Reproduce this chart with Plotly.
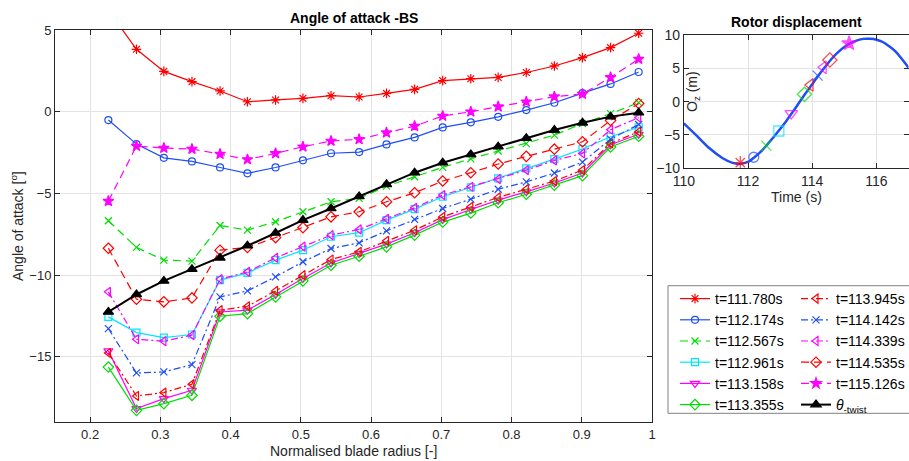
import plotly.graph_objects as go

W, H = 909, 461

# ---------------- data ----------------
radius = [0.226, 0.266, 0.305, 0.345, 0.385, 0.424, 0.464, 0.503, 0.543, 0.583,
          0.622, 0.662, 0.702, 0.742, 0.781, 0.821, 0.861, 0.901, 0.941, 0.981]

aoa_111780 = [6.2, 3.82, 2.47, 1.84, 1.27, 0.61, 0.72, 0.82, 0.98, 0.90,
              1.12, 1.37, 1.90, 2.02, 2.10, 2.40, 2.80, 3.31, 3.92, 4.80]
aoa_112174 = [-0.51, -1.98, -2.82, -3.04, -3.41, -3.77, -3.41, -2.97, -2.54, -2.47,
              -2.00, -1.57, -0.96, -0.65, -0.31, 0.10, 0.55, 1.14, 1.70, 2.43]
aoa_112567 = [-6.67, -8.30, -9.08, -9.14, -6.96, -7.24, -6.73, -6.12, -5.51, -5.30,
              -4.55, -3.98, -3.40, -2.88, -2.40, -1.95, -1.43, -0.72, -0.12, 0.56]
aoa_112961 = [-12.55, -13.51, -13.82, -13.63, -10.30, -9.86, -9.08, -8.47, -7.65, -7.40,
              -6.63, -5.96, -5.20, -4.63, -4.08, -3.47, -2.90, -2.28, -1.53, -0.95]
aoa_113158 = [-14.63, -18.16, -17.55, -17.04, -12.25, -12.14, -11.18, -10.20, -9.25, -8.67,
              -8.10, -7.40, -6.60, -5.98, -5.41, -4.90, -4.36, -3.75, -2.02, -1.38]
aoa_113355 = [-15.62, -18.27, -17.86, -17.35, -12.51, -12.35, -11.33, -10.35, -9.39, -8.84,
              -8.27, -7.55, -6.75, -6.20, -5.57, -5.05, -4.49, -3.91, -2.16, -1.50]
aoa_113945 = [-14.76, -17.39, -17.18, -16.67, -12.14, -11.90, -10.96, -10.00, -9.04, -8.57,
              -7.90, -7.25, -6.43, -5.82, -5.24, -4.74, -4.24, -3.57, -1.94, -1.22]
aoa_114142 = [-13.27, -15.98, -15.92, -15.47, -11.33, -10.96, -10.10, -9.18, -8.37, -8.02,
              -7.29, -6.59, -5.92, -5.35, -4.74, -4.29, -3.75, -3.08, -1.68, -0.78]
aoa_114339 = [-11.02, -13.92, -14.04, -13.67, -10.24, -9.80, -8.94, -8.25, -7.55, -7.20,
              -6.55, -5.88, -5.10, -4.59, -4.12, -3.57, -2.98, -2.55, -1.10, -0.36]
aoa_114535 = [-8.35, -11.47, -11.63, -11.39, -8.47, -8.30, -7.70, -7.09, -6.43, -6.12,
              -5.51, -4.96, -4.24, -3.73, -3.20, -2.73, -2.29, -1.84, -0.54, 0.50]
aoa_115126 = [-5.47, -2.10, -2.22, -2.28, -2.59, -2.92, -2.55, -2.14, -1.79, -1.69,
              -1.28, -0.88, -0.26, 0.00, 0.31, 0.61, 0.92, 1.08, 2.10, 3.22]
theta_twist = [-12.25, -11.18, -10.35, -9.63, -8.94, -8.20, -7.42, -6.63, -5.92, -5.18,
               -4.44, -3.73, -3.12, -2.61, -2.14, -1.62, -1.12, -0.68, -0.30, -0.06]

series_names = ["t=111.780s", "t=112.174s", "t=112.567s", "t=112.961s", "t=113.158s",
                "t=113.355s", "t=113.945s", "t=114.142s", "t=114.339s", "t=114.535s",
                "t=115.126s", "<i>θ</i><sub>-twist</sub>"]

x_ticks = [0.2, 0.3, 0.4, 0.5, 0.6, 0.7, 0.8, 0.9, 1.0]
x_tick_labels = ["0.2", "0.3", "0.4", "0.5", "0.6", "0.7", "0.8", "0.9", "1"]
y_ticks = [-15, -10, -5, 0, 5]

# rotor displacement curve
time_s = [110.0, 110.4, 110.8, 111.2, 111.5, 111.7, 112.0, 112.2, 112.4, 112.6,
          112.8, 113.0, 113.2, 113.4, 113.6, 113.8, 114.0, 114.2, 114.4, 114.6,
          114.8, 115.0, 115.2, 115.4, 115.6, 115.8, 116.0, 116.2, 116.4, 116.6,
          116.8, 117.0]
oz_m = [-3.25, -5.1, -7.0, -8.45, -9.15, -9.35, -9.05, -8.35, -7.5, -6.45,
        -5.3, -4.1, -2.85, -1.5, -0.1, 1.3, 2.6, 3.95, 5.2, 6.4,
        7.4, 8.2, 8.8, 9.2, 9.42, 9.42, 9.3, 8.95, 8.3, 7.5,
        6.35, 5.1]
marker_t = [111.76, 112.18, 112.57, 112.96, 113.35, 113.76, 113.94, 114.17, 114.35, 114.55, 115.15]
marker_oz = [-9.15, -8.34, -6.6, -4.4, -1.75, 1.1, 2.5, 3.9, 5.15, 6.25, 8.75]
rt_x_ticks = [110, 112, 114, 116]
rt_y_ticks = [-10, -5, 0, 5, 10]

# ---------------- styles ----------------
RED, BLUE, GREEN, CYAN, MAG, BLK = "#ff0000", "#1f4ef5", "#00dd00", "#00e5ff", "#ff00ff", "#000000"
DASH = "8px,5px"
DASHDOT = "7px,3px,2px,3px"
styles = [
    (RED, "solid", "asterisk-open", 8),
    (BLUE, "solid", "circle-open", 7),
    (GREEN, DASH, "x-thin-open", 7),
    (CYAN, "solid", "square-open", 7),
    (MAG, "solid", "triangle-down-open", 8),
    (GREEN, "solid", "diamond-open", 8),
    (RED, DASHDOT, "triangle-left-open", 8),
    (BLUE, DASHDOT, "x-thin-open", 7),
    (MAG, DASHDOT, "triangle-left-open", 8),
    (RED, DASH, "diamond-open", 8),
    (MAG, DASH, "star", 8),
    (BLK, "solid", "triangle-up", 9),
]
all_series = [aoa_111780, aoa_112174, aoa_112567, aoa_112961, aoa_113158, aoa_113355,
              aoa_113945, aoa_114142, aoa_114339, aoa_114535, aoa_115126, theta_twist]

FONT = "Liberation Sans, Arial, sans-serif"
AX = "#262626"
GRID = "#e3e3e3"

fig = go.Figure()
for i, (vals, name, st) in enumerate(zip(all_series, series_names, styles)):
    col, dash, sym, size = st
    lw = 2 if col == BLK else 1.2
    fig.add_trace(go.Scatter(
        x=radius, y=vals, name=name, mode="lines+markers",
        line=dict(color=col, dash=dash, width=lw),
        marker=dict(symbol=sym, size=size, color=col, line=dict(color=col, width=1.2)),
        legend="legend" if i < 6 else "legend2",
        xaxis="x", yaxis="y",
    ))

fig.add_trace(go.Scatter(x=time_s, y=oz_m, mode="lines", line=dict(color=BLUE, width=2.5, shape="spline"),
                         showlegend=False, xaxis="x2", yaxis="y2"))
rt_styles = styles[:11]
fig.add_trace(go.Scatter(
    x=marker_t, y=marker_oz, mode="markers", showlegend=False, xaxis="x2", yaxis="y2",
    marker=dict(symbol=[s[2] for s in rt_styles], size=[s[3] + 3 for s in rt_styles],
                color=[s[0] for s in rt_styles], line=dict(color=[s[0] for s in rt_styles], width=1.3)),
))

def px(xp):
    return xp / W

def py(yp):
    return 1 - yp / H

axis_common = dict(showline=True, linecolor=AX, linewidth=1, mirror="ticks", ticks="inside",
                   ticklen=5, tickcolor=AX, showgrid=True, gridcolor=GRID, gridwidth=1,
                   zeroline=False, tickfont=dict(family=FONT, size=13, color=AX))

fig.update_layout(
    width=W, height=H,
    margin=dict(l=0, r=0, t=0, b=0, autoexpand=False),
    paper_bgcolor="white", plot_bgcolor="white",
    font=dict(family=FONT, color=AX),
    xaxis=dict(domain=[px(55), px(652)], range=[0.15, 1.0], tickvals=x_ticks, ticktext=x_tick_labels,
               anchor="y", **axis_common),
    yaxis=dict(domain=[py(422.3), py(30)], range=[-19, 5], tickvals=y_ticks, anchor="x", **axis_common),
    xaxis2=dict(domain=[px(683.8), px(908.5)], range=[110, 117], tickvals=rt_x_ticks, anchor="y2",
                **{**axis_common, "tickfont": dict(family=FONT, size=14, color=AX)}),
    yaxis2=dict(domain=[py(168.3), py(35)], range=[-10, 10], tickvals=rt_y_ticks, anchor="x2",
                **{**axis_common, "tickfont": dict(family=FONT, size=14, color=AX)}),
    legend=dict(x=px(675), y=py(283), xanchor="left", yanchor="top", bgcolor="rgba(0,0,0,0)",
                borderwidth=0, font=dict(family=FONT, size=14, color="#000000"), traceorder="normal"),
    legend2=dict(x=px(796), y=py(283), xanchor="left", yanchor="top", bgcolor="rgba(0,0,0,0)",
                 borderwidth=0, font=dict(family=FONT, size=14, color="#000000"), traceorder="normal"),
    showlegend=True,
)

fig.add_shape(type="rect", xref="paper", yref="paper", x0=px(668), x1=1.05, y0=py(413.3), y1=py(285.7),
              line=dict(color="#808080", width=1), fillcolor="rgba(0,0,0,0)", layer="below")

ann = [
    dict(text="<b>Angle of attack -BS</b>", x=px(353.5), y=py(18), size=14),
    dict(text="<b>Rotor displacement</b>", x=px(796), y=py(22), size=14),
    dict(text="Normalised blade radius [-]", x=px(353.5), y=py(451), size=14),
    dict(text="Time (s)", x=px(796), y=py(197), size=14),
]
for a in ann:
    fig.add_annotation(text=a["text"], x=a["x"], y=a["y"], xref="paper", yref="paper",
                       xanchor="center", yanchor="middle", showarrow=False,
                       font=dict(family=FONT, size=a["size"], color=AX if "<b>" not in a["text"] else "#000000"))
fig.add_annotation(text="Angle of attack [<sup>o</sup>]", x=px(17), y=py(226), xref="paper", yref="paper",
                   xanchor="center", yanchor="middle", textangle=-90, showarrow=False,
                   font=dict(family=FONT, size=14, color=AX))
fig.add_annotation(text="O<sub>z</sub> (m)", x=px(693), y=py(92), xref="paper", yref="paper",
                   xanchor="center", yanchor="middle", textangle=-90, showarrow=False,
                   font=dict(family=FONT, size=14, color=AX))

fig.write_html("out.html", config={"displayModeBar": False},
               post_script="document.body.style.margin='0';document.body.style.overflow='hidden';")
